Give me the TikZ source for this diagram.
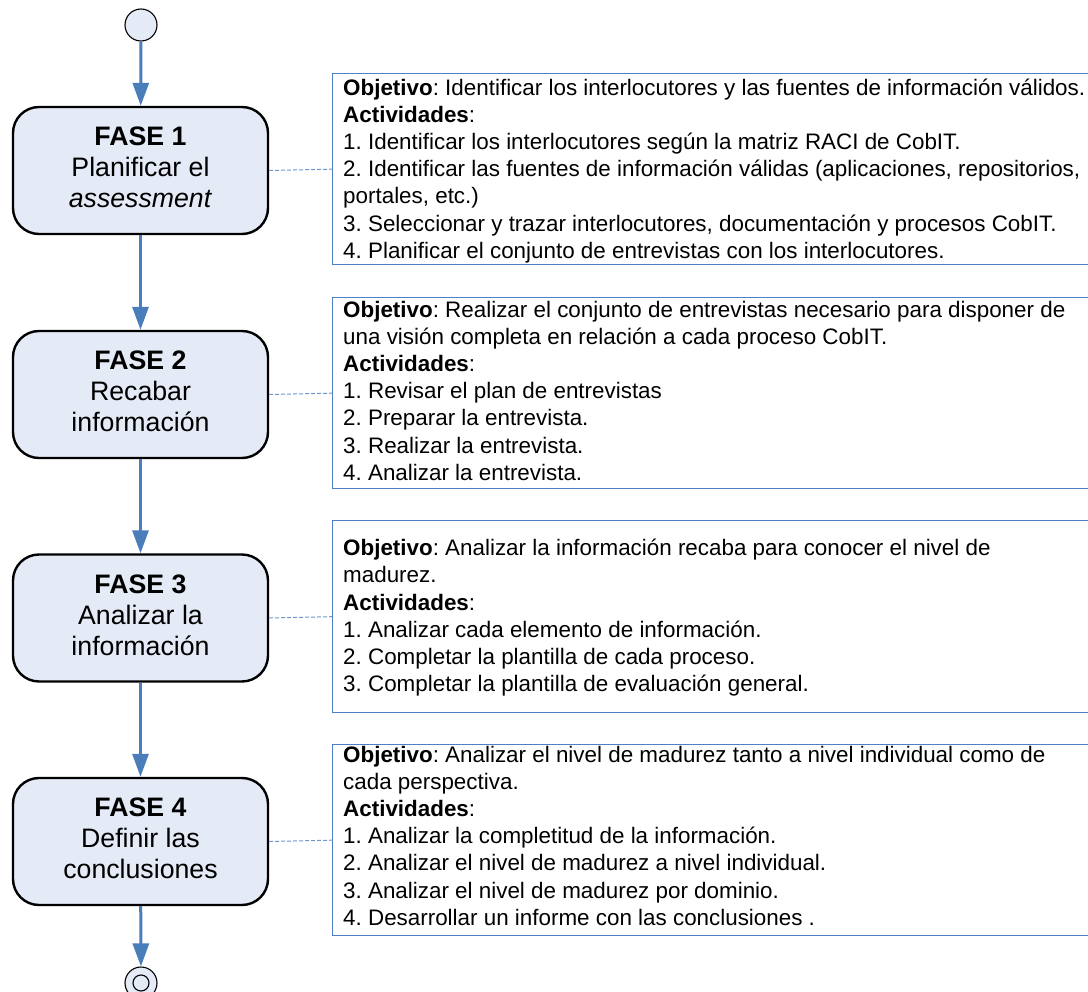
\documentclass[tikz,border=0pt]{standalone}
\usepackage{fontspec}
\setmainfont{Liberation Sans}
\usetikzlibrary{arrows.meta}
\frenchspacing

\definecolor{phasefill}{RGB}{228,235,246}
\definecolor{flowblue}{RGB}{74,126,187}
\definecolor{notebl}{RGB}{80,128,196}
\definecolor{dashbl}{RGB}{110,150,205}

\tikzset{
  phase/.style={draw=black, line width=2.4pt, fill=phasefill, rounded corners=26pt,
    minimum width=255pt, minimum height=127pt, inner sep=0pt, align=center,
    font=\fontsize{26.7}{31}\selectfont},
  flow/.style={draw=flowblue, line width=3pt, -{Triangle[length=23pt,width=16pt]}},
  notebox/.style={draw=notebl, line width=1.4pt, anchor=north west, inner sep=0pt,
    minimum width=768pt},
  notetext/.style={anchor=north west, inner sep=0pt, align=left,
    font=\fontsize{22.4}{27.2}\selectfont},
  linkline/.style={draw=dashbl, line width=1pt, dash pattern=on 4pt off 2pt},
  terminal/.style={circle, draw=black, line width=1.1pt, fill=phasefill,
    minimum size=32pt, inner sep=0pt}
}

\begin{document}
\begin{tikzpicture}[x=1pt,y=-1pt]
\useasboundingbox (0,0) rectangle (1088,992);

% start and end markers
\node[terminal] (start) at (141,25) {};
\node[terminal] (stop) at (141,983) {};
\node[circle, draw=black, line width=1.1pt, minimum size=16pt, inner sep=0pt] (stopin) at (141,983) {};

% the four phases
\node[phase] (p1) at (140.5,170.5) {\strut\textbf{FASE 1}\\Planificar el\\\textit{assessment}\strut};
\node[phase] (p2) at (140.5,394.5) {\strut\textbf{FASE 2}\\Recabar\\información\strut};
\node[phase] (p3) at (140.5,618) {\strut\textbf{FASE 3}\\Analizar la\\información\strut};
\node[phase] (p4) at (140.5,841.5) {\strut\textbf{FASE 4}\\Definir las\\conclusiones\strut};

% flow arrows
\draw[flow] (start) -- (p1);
\draw[flow] (p1) -- (p2);
\draw[flow] (p2) -- (p3);
\draw[flow] (p3) -- (p4);
\draw[flow] (p4) -- (stop);

% description frames
\node[notebox, minimum height=191pt] (a1) at (332,73) {};
\node[notebox, minimum height=191pt] (a2) at (332,297) {};
\node[notebox, minimum height=192pt] (a3) at (332,520) {};
\node[notebox, minimum height=191pt] (a4) at (332,744) {};

\draw[linkline] (p1.east) -- (a1.west);
\draw[linkline] (p2.east) -- (a2.west);
\draw[linkline] (p3.east) -- (a3.west);
\draw[linkline] (p4.east) -- (a4.west);

% description texts
\node[notetext] (t1) at (343,75.9) {\strut\textbf{Objetivo}: Identificar los interlocutores y las fuentes de información válidos.\\
\textbf{Actividades}:\\
1. Identificar los interlocutores según la matriz RACI de CobIT.\\
2. Identificar las fuentes de información válidas (aplicaciones, repositorios,\\
portales, etc.)\\
3. Seleccionar y trazar interlocutores, documentación y procesos CobIT.\\
4. Planificar el conjunto de entrevistas con los interlocutores.};

\node[notetext] (t2) at (343,297.9) {\strut\textbf{Objetivo}: Realizar el conjunto de entrevistas necesario para disponer de\\
una visión completa en relación a cada proceso CobIT.\\
\textbf{Actividades}:\\
1. Revisar el plan de entrevistas\\
2. Preparar la entrevista.\\
3. Realizar la entrevista.\\
4. Analizar la entrevista.};

\node[notetext] (t3) at (343,536.4) {\strut\textbf{Objetivo}: Analizar la información recaba para conocer el nivel de\\
madurez.\\
\textbf{Actividades}:\\
1. Analizar cada elemento de información.\\
2. Completar la plantilla de cada proceso.\\
3. Completar la plantilla de evaluación general.};

\node[notetext] (t4) at (343,742.9) {\strut\textbf{Objetivo}: Analizar el nivel de madurez tanto a nivel individual como de\\
cada perspectiva.\\
\textbf{Actividades}:\\
1. Analizar la completitud de la información.\\
2. Analizar el nivel de madurez a nivel individual.\\
3. Analizar el nivel de madurez por dominio.\\
4. Desarrollar un informe con las conclusiones .};
\end{tikzpicture}
\end{document}
